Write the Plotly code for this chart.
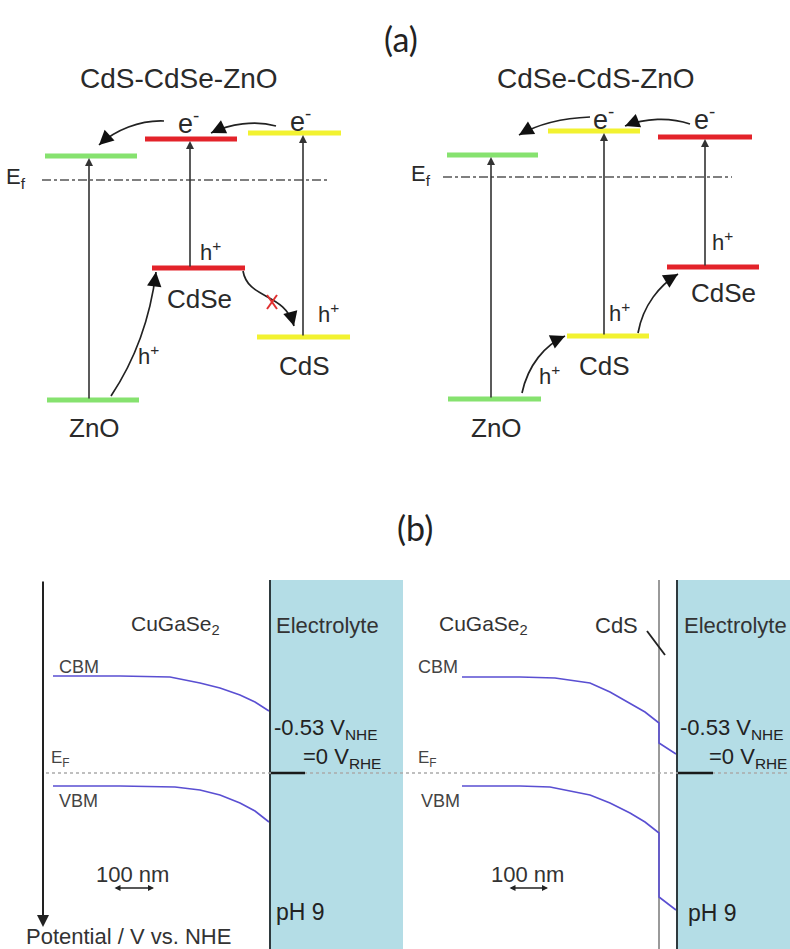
import plotly.graph_objects as go

W, H = 790, 949
FONT = "Liberation Sans, Arial, sans-serif"
TXT = "#2a2a2a"

# ---------------- Panel (a) data (diagram units, y grows downward) ----------------
a_titles = ["CdS-CdSe-ZnO", "CdSe-CdS-ZnO"]
a_title_x = [179, 596]
a_materials = [["ZnO", "CdSe", "CdS"], ["ZnO", "CdS", "CdSe"]]
a_colors = [["#86e26f", "#e3232a", "#f2f230"], ["#86e26f", "#f2f230", "#e3232a"]]
a_cb_level = [[156, 139, 133], [155, 131, 137]]
a_cb_x0 = [[45, 145, 248], [447, 548, 658]]
a_cb_x1 = [[137, 237, 341], [538, 640, 752]]
a_vb_level = [[400, 268, 337], [399, 336, 267]]
a_vb_x0 = [[47, 152, 257], [448, 567, 667]]
a_vb_x1 = [[139, 245, 350], [541, 649, 759]]
a_arrow_x = [[89, 190, 303], [491, 604, 705]]
a_label_x = [[94, 199, 304], [496, 604, 723]]
a_label_y = [[428, 299, 366], [428, 366, 293]]
a_ef_level = [180, 177]
a_ef_x = [[42, 330], [443, 732]]
a_ef_label_x = [16, 421]
a_e_labels = [[(188, 122), (300, 120)], [(603, 118), (704, 118)]]
a_h_labels = [[(210, 251), (328, 313), (148, 355)], [(722, 241), (619, 312), (549, 375)]]
# curved transfer arrows: start, control1, control2, tip
a_curves = [
    [(276, 126), (255, 120), (230, 124), (211, 133)],
    [(164, 121), (140, 120), (115, 130), (99, 145)],
    [(111, 396), (135, 360), (150, 320), (156, 272)],
    [(243, 271), (248, 300), (285, 292), (294, 326)],
    [(690, 124), (670, 117), (645, 118), (625, 126)],
    [(590, 117), (565, 118), (540, 123), (519, 135)],
    [(522, 393), (528, 365), (545, 345), (565, 336)],
    [(638, 333), (643, 305), (660, 285), (678, 274)],
]
a_blocked = (272, 302)

# ---------------- Panel (b) data ----------------
b_cbm_left_x = [53, 120, 170, 200, 220, 240, 255, 269]
b_cbm_left_y = [676, 676, 677, 683, 688, 695, 702, 711]
b_vbm_left_x = [53, 120, 175, 200, 220, 240, 255, 269]
b_vbm_left_y = [786, 786, 787, 790, 795, 803, 811, 822]
b_cbm_right_x = [462, 520, 555, 590, 610, 630, 645, 659, 659, 676]
b_cbm_right_y = [677, 677, 678, 683, 692, 703, 712, 723, 743, 754]
b_vbm_right_x = [462, 520, 550, 590, 610, 630, 645, 659, 659, 676]
b_vbm_right_y = [786, 786, 787, 795, 803, 813, 822, 833, 897, 910]
b_ef_level = 773
b_top = 580

fig = go.Figure()

# energy levels (a)
for p in range(2):
    for i in range(3):
        fig.add_trace(go.Scatter(x=[a_cb_x0[p][i], a_cb_x1[p][i]], y=[a_cb_level[p][i]] * 2,
                                 mode="lines", line=dict(color=a_colors[p][i], width=5),
                                 hoverinfo="skip", showlegend=False))
        fig.add_trace(go.Scatter(x=[a_vb_x0[p][i], a_vb_x1[p][i]], y=[a_vb_level[p][i]] * 2,
                                 mode="lines", line=dict(color=a_colors[p][i], width=5),
                                 hoverinfo="skip", showlegend=False))

shapes = []
ann = []

def text(x, y, t, size, xanchor="center", color=TXT, family=FONT):
    ann.append(dict(x=x, y=y, text=t, showarrow=False, xanchor=xanchor, yanchor="middle",
                    font=dict(size=size, color=color, family=family)))

def arrow(x, y, ax, ay, color="#333", width=1.6, head=2, size=1.0, side="end"):
    ann.append(dict(x=x, y=y, ax=ax, ay=ay, xref="x", yref="y", axref="x", ayref="y",
                    text="", showarrow=True, arrowhead=head, arrowsize=size,
                    arrowwidth=width, arrowcolor=color, arrowside=side,
                    startarrowhead=head, startarrowsize=size))

# panel labels
text(401, 38, "(a)", 34, family="Lato, Open Sans, sans-serif", color="#222")
text(415, 527, "(b)", 34, family="Lato, Open Sans, sans-serif", color="#222")

for p in range(2):
    text(a_title_x[p], 78, a_titles[p], 28)
    # Ef line
    shapes.append(dict(type="line", x0=a_ef_x[p][0], x1=a_ef_x[p][1], y0=a_ef_level[p], y1=a_ef_level[p],
                       line=dict(color="#555", width=1.5, dash="dashdot")))
    text(a_ef_label_x[p], a_ef_level[p] - 2, "E<sub>f</sub>", 22)
    for i in range(3):
        arrow(a_arrow_x[p][i], a_cb_level[p][i] + 2, a_arrow_x[p][i], a_vb_level[p][i])
        text(a_label_x[p][i], a_label_y[p][i], a_materials[p][i], 26)
    for (x, y) in a_e_labels[p]:
        text(x, y, "e<sup>-</sup>", 27)
    for (x, y) in a_h_labels[p]:
        text(x, y, "h<sup>+</sup>", 22)

for (s, c1, c2, e) in a_curves:
    shapes.append(dict(type="path",
                       path=f"M {s[0]},{s[1]} C {c1[0]},{c1[1]} {c2[0]},{c2[1]} {e[0]},{e[1]}",
                       line=dict(color="#222", width=1.7)))
    dx, dy = c2[0] - e[0], c2[1] - e[1]
    n = (dx * dx + dy * dy) ** 0.5
    arrow(e[0], e[1], e[0] + dx / n * 6, e[1] + dy / n * 6, color="#111", width=1.7, head=2, size=1.7)

bx, by = a_blocked
shapes.append(dict(type="line", x0=bx - 5, x1=bx + 5, y0=by - 7, y1=by + 7, line=dict(color="#e03030", width=2)))
shapes.append(dict(type="line", x0=bx + 5, x1=bx - 5, y0=by - 7, y1=by + 7, line=dict(color="#e03030", width=2)))

# ---------------- Panel (b) ----------------
# electrolyte
shapes.append(dict(type="rect", x0=270, x1=403, y0=b_top, y1=H, fillcolor="#b4dde6", line=dict(width=0), layer="below"))
shapes.append(dict(type="rect", x0=677, x1=W, y0=b_top, y1=H, fillcolor="#b4dde6", line=dict(width=0), layer="below"))
shapes.append(dict(type="line", x0=270, x1=270, y0=b_top, y1=H, line=dict(color="#2e3a3e", width=2)))
shapes.append(dict(type="line", x0=677, x1=677, y0=b_top, y1=H, line=dict(color="#2e3a3e", width=2)))
# CdS layer
shapes.append(dict(type="line", x0=659, x1=659, y0=b_top, y1=H, line=dict(color="#9a9a9a", width=2), layer="below"))
# Fermi level
shapes.append(dict(type="line", x0=46, x1=W, y0=b_ef_level, y1=b_ef_level,
                   line=dict(color="#aaaaaa", width=1.5, dash="dot")))
shapes.append(dict(type="line", x0=271, x1=305, y0=b_ef_level, y1=b_ef_level, line=dict(color="#1a1a1a", width=2.5)))
shapes.append(dict(type="line", x0=678, x1=713, y0=b_ef_level, y1=b_ef_level, line=dict(color="#1a1a1a", width=2.5)))
# CdS pointer
shapes.append(dict(type="line", x0=647, x1=665, y0=631, y1=655, line=dict(color="#222", width=1.8)))
# potential axis
arrow(43, 927, 43, b_top, color="#222", width=2, head=2, size=1.2)
text(128, 936, "Potential / V vs. NHE", 22, color="#333")

for (xs, ys) in [(b_cbm_left_x, b_cbm_left_y), (b_vbm_left_x, b_vbm_left_y),
                 (b_cbm_right_x, b_cbm_right_y), (b_vbm_right_x, b_vbm_right_y)]:
    fig.add_trace(go.Scatter(x=xs, y=ys, mode="lines", line=dict(color="#5a4fd2", width=1.6),
                             hoverinfo="skip", showlegend=False))

for cx in [175, 483]:
    text(cx, 625, "CuGaSe<sub>2</sub>", 21, color="#333")
text(327, 625, "Electrolyte", 22, color="#333")
text(735, 625, "Electrolyte", 22, color="#333")
text(616, 625, "CdS", 22, color="#333")
text(57, 667, "CBM", 18, xanchor="left", color="#444")
text(416, 667, "CBM", 18, xanchor="left", color="#444")
text(57, 801, "VBM", 18, xanchor="left", color="#444")
text(419, 801, "VBM", 18, xanchor="left", color="#444")
text(49, 759, "E<sub>F</sub>", 17, xanchor="left", color="#444")
text(416, 759, "E<sub>F</sub>", 17, xanchor="left", color="#444")
for x0, x1 in [(272, 383), (678, 789)]:
    ann.append(dict(x=x0, y=729, text="-0.53 V<sub>NHE</sub>", showarrow=False, xanchor="left",
                    yanchor="middle", font=dict(size=22, color="#222", family=FONT)))
    ann.append(dict(x=x1, y=758, text="=0 V<sub>RHE</sub>", showarrow=False, xanchor="right",
                    yanchor="middle", font=dict(size=22, color="#222", family=FONT)))
text(300, 912, "pH 9", 23, color="#222")
text(712, 913, "pH 9", 23, color="#222")
for cx, a0, a1 in [(132, 113, 154), (527, 508, 548)]:
    text(cx, 874, "100 nm", 22, color="#333")
    arrow(a1, 888, a0, 888, color="#222", width=1.5, head=2, size=0.8, side="end+start")

fig.update_layout(
    width=W, height=H, margin=dict(l=0, r=0, t=0, b=0),
    paper_bgcolor="white", plot_bgcolor="white",
    xaxis=dict(range=[0, W], visible=False, fixedrange=True),
    yaxis=dict(range=[H, 0], visible=False, fixedrange=True),
    shapes=shapes, annotations=ann, showlegend=False,
)
fig.write_html("out.html")
